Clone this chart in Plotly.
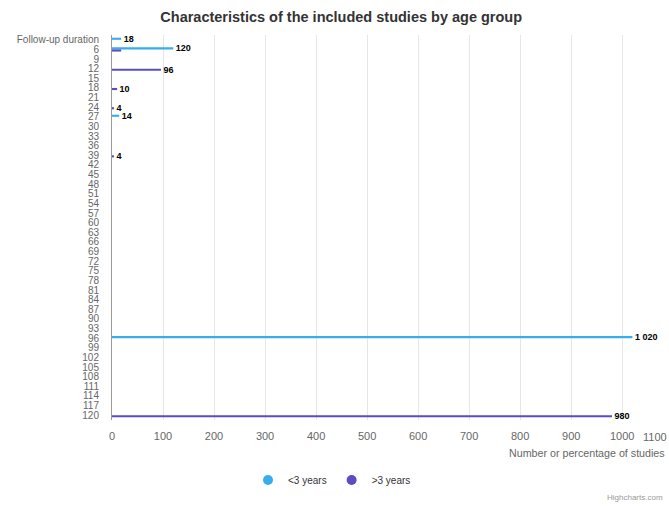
import plotly.graph_objects as go

categories = ["Follow-up duration"] + [str(v) for v in range(6, 121, 3)]

# values (None = no bar)
lt3_points = {"Follow-up duration": 18, "6": 120, "27": 14, "96": 1020}
gt3_points = {"6": 18, "12": 96, "18": 10, "24": 4, "39": 4, "120": 980}
lt3_labels = {"Follow-up duration": "18", "6": "120", "27": "14", "96": "1 020"}
gt3_labels = {"12": "96", "18": "10", "24": "4", "39": "4", "120": "980"}

lt3_values = [lt3_points.get(c) for c in categories]
gt3_values = [gt3_points.get(c) for c in categories]
lt3_text = [("\u00a0<b>" + lt3_labels[c] + "</b>") if c in lt3_labels else "" for c in categories]
gt3_text = [("\u00a0<b>" + gt3_labels[c] + "</b>") if c in gt3_labels else "" for c in categories]

series_names = ["<3 years", ">3 years"]
blue = "#35aeea"
purple = "#5a4cc2"

fig = go.Figure()
for name, vals, txt, col in [(series_names[0], lt3_values, lt3_text, blue),
                             (series_names[1], gt3_values, gt3_text, purple)]:
    fig.add_trace(go.Bar(
        y=categories, x=vals, orientation="h", name=name,
        marker=dict(color=col, line=dict(width=0)),
        text=txt, textposition="outside", constraintext="none",
        textfont=dict(family="Liberation Sans, Arial, sans-serif", size=9, color="#000000"),
        cliponaxis=False, showlegend=False, hoverinfo="x+y",
    ))
    # legend markers (circles)
    fig.add_trace(go.Scatter(
        x=[None], y=[None], mode="markers", name=name,
        marker=dict(symbol="circle", size=10, color=col),
    ))

fig.update_layout(
    width=669, height=506,
    margin=dict(l=112, r=7, t=35, b=86),
    paper_bgcolor="white", plot_bgcolor="white",
    barmode="group", bargap=0.56, bargroupgap=0,
    font=dict(family="Liberation Sans, Arial, sans-serif", color="#666666", size=11),
    title=dict(text="<b>Characteristics of the included studies by age group</b>",
               x=0.51, xanchor="center", y=0.966, yanchor="middle",
               font=dict(size=14.5, color="#333333")),
    showlegend=True,
    legend=dict(orientation="h", x=0.40, xanchor="center", y=-0.156, yanchor="middle",
                font=dict(size=10, color="#333333"), itemwidth=30,
                traceorder="normal"),
    xaxis=dict(range=[0, 1078], tickvals=list(range(0, 1001, 100)),
               showgrid=True, gridcolor="#e6e6e6", gridwidth=1,
               zeroline=False, showline=False, ticks="", ticklabelstandoff=8,
               tickfont=dict(size=11, color="#666666")),
    yaxis=dict(type="category", categoryorder="array", categoryarray=categories,
               tickmode="array", tickvals=categories, ticktext=categories,
               autorange="reversed", showgrid=False, zeroline=False,
               showline=True, linecolor="#999999", linewidth=1,
               ticks="", ticklabelstandoff=10, tickfont=dict(size=10, color="#666666"),
               automargin=False),
)

fig.add_annotation(text="1100", x=1.012, xref="paper", y=-0.044, yref="paper",
                   xanchor="right", yanchor="middle", showarrow=False,
                   font=dict(size=11, color="#666666"))
fig.add_annotation(text="Number or percentage of studies", x=1.009, xref="paper",
                   y=-0.086, yref="paper", xanchor="right", yanchor="middle",
                   showarrow=False, font=dict(size=10.7, color="#666666"))
fig.add_annotation(text="Highcharts.com", x=1.005, xref="paper", y=-0.2, yref="paper",
                   xanchor="right", yanchor="middle", showarrow=False,
                   font=dict(size=8, color="#999999"))

fig.write_html("out.html", config={"displayModeBar": False},
               post_script="document.body.style.margin='0';")
